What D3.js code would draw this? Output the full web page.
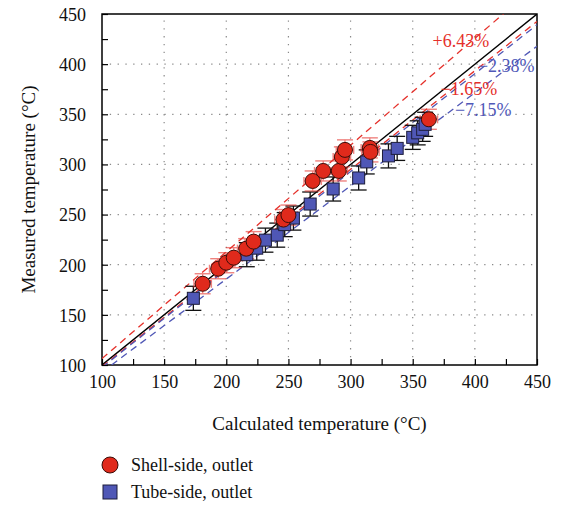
<!DOCTYPE html>
<html>
<head>
<meta charset="utf-8">
<script src="https://cdn.jsdelivr.net/npm/d3@7"></script>
<style>
  body { margin: 0; background: #fff; }
  svg text { font-family: "Liberation Serif", "Times New Roman", "DejaVu Serif", serif !important; }
</style>
</head>
<body>
<div id="viz-container"></div>
<script>
// data
let shellCalc = [181, 193.5, 200, 206, 216, 222, 246, 250, 269.5, 278, 290.5, 293, 295.5, 315.5, 316, 363];
let shellMeas = [181, 196, 202, 207, 216, 223, 245, 249.5, 283.5, 293.5, 293.5, 307.5, 314.5, 316.5, 312.5, 345];
let shellXErr = 7;
let shellYErr = 10;

let tubeCalc = [173.5, 216.5, 224.5, 231.5, 241, 247, 254, 267.5, 286, 306.5, 313, 330.5, 337.5, 350, 354, 358, 360];
let tubeMeas = [166.5, 210, 216.5, 224.5, 229.5, 240, 246.5, 260.5, 275.5, 286.5, 302.5, 308.5, 316, 327, 331.5, 335, 340];
let tubeXErr = 5;
let tubeYErr = 12;

// reference lines: percent deviation from y = x
let devNames = ["+6.43%", "\u22121.65%", "\u22122.38%", "\u22127.15%"];
let devValues = [6.43, -1.65, -2.38, -7.15];
let devSeries = ["shell", "shell", "tube", "tube"];

let xTicks = [100, 150, 200, 250, 300, 350, 400, 450];
let yTicks = [100, 150, 200, 250, 300, 350, 400, 450];

let red = "#e5302a";
let blue = "#4f57b6";
let serif = "'Liberation Serif', 'Times New Roman', 'DejaVu Serif', serif";

let margin = {left: 102, top: 14, right: 33, bottom: 142};
let W = 570, H = 507;

let viz = d3.select("#viz-container")
  .append("svg")
    .attr("width", W)
    .attr("height", H)
    .attr("font-family", serif);

let x = d3.scaleLinear().domain([100, 450]).range([margin.left, W - margin.right]);
let y = d3.scaleLinear().domain([100, 450]).range([H - margin.bottom, margin.top]);

// clip
viz.append("clipPath").attr("id", "clip")
  .append("rect")
    .attr("x", x(100)).attr("y", y(450))
    .attr("width", x(450) - x(100)).attr("height", y(100) - y(450));

// grid
let grid = viz.append("g").attr("stroke", "#8a8a8a").attr("stroke-width", 1.2).attr("stroke-dasharray", "1.3,6.5");
grid.selectAll(".gx").data(xTicks.slice(1, -1)).enter().append("line")
  .attr("x1", d => x(d)).attr("x2", d => x(d))
  .attr("y1", y(100)).attr("y2", y(450));
grid.selectAll(".gy").data(yTicks.slice(1, -1)).enter().append("line")
  .attr("y1", d => y(d)).attr("y2", d => y(d))
  .attr("x1", x(100)).attr("x2", x(450));

// axes with inner ticks
let minor = d3.range(100, 451, 25);
let xAxis = viz.append("g").attr("transform", "translate(0," + y(100) + ")")
  .call(d3.axisBottom(x).tickValues(minor).tickSize(-6).tickSizeOuter(0)
    .tickFormat(d => xTicks.includes(d) ? d : ""));
let yAxis = viz.append("g").attr("transform", "translate(" + x(100) + ",0)")
  .call(d3.axisLeft(y).tickValues(minor).tickSize(-6).tickSizeOuter(0)
    .tickFormat(d => yTicks.includes(d) ? d : ""));
[xAxis, yAxis].forEach(a => {
  a.attr("font-family", serif);
  a.select(".domain").remove();
  a.selectAll("line").attr("stroke", "#000").attr("stroke-width", 1.2);
  a.selectAll("text").attr("font-family", serif).attr("font-size", 18).attr("fill", "#111");
});
xAxis.selectAll("text").attr("dy", "1.0em").attr("y", 5);
yAxis.selectAll("text").attr("x", -16).attr("dy", "0.35em");

// frame
viz.append("rect")
  .attr("x", x(100)).attr("y", y(450))
  .attr("width", x(450) - x(100)).attr("height", y(100) - y(450))
  .attr("fill", "none").attr("stroke", "#000").attr("stroke-width", 1.5);

let plot = viz.append("g").attr("clip-path", "url(#clip)");

// reference lines
plot.append("line")
  .attr("x1", x(100)).attr("y1", y(100)).attr("x2", x(450)).attr("y2", y(450))
  .attr("stroke", "#000").attr("stroke-width", 1.4);

plot.selectAll(".dev").data(devValues).enter().append("line")
  .attr("x1", x(100)).attr("y1", d => y(100 * (1 + d / 100)))
  .attr("x2", x(450)).attr("y2", d => y(450 * (1 + d / 100)))
  .attr("stroke", (d, i) => devSeries[i] == "shell" ? red : blue)
  .attr("stroke-width", 1.3)
  .attr("stroke-dasharray", "7,5");

let tube = tubeCalc.map((c, i) => ({c: c, m: tubeMeas[i]}));
let shell = shellCalc.map((c, i) => ({c: c, m: shellMeas[i]}));

// tube-side error bars
let tb = plot.append("g");
tube.forEach(d => {
  tb.append("line").attr("x1", x(d.c - tubeXErr)).attr("x2", x(d.c + tubeXErr))
    .attr("y1", y(d.m)).attr("y2", y(d.m)).attr("stroke", "#777").attr("stroke-width", 1.3).attr("opacity", 0.7);
  tb.append("line").attr("x1", x(d.c)).attr("x2", x(d.c))
    .attr("y1", y(d.m - tubeYErr)).attr("y2", y(d.m + tubeYErr)).attr("stroke", "#111").attr("stroke-width", 1.3);
  [d.m - tubeYErr, d.m + tubeYErr].forEach(v => {
    tb.append("line").attr("x1", x(d.c) - 8).attr("x2", x(d.c) + 8)
      .attr("y1", y(v)).attr("y2", y(v)).attr("stroke", "#111").attr("stroke-width", 1.3);
  });
});

// shell-side error bars
let sb = plot.append("g").attr("stroke", red).attr("stroke-width", 1.4).attr("opacity", 0.6);
shell.forEach(d => {
  sb.append("line").attr("x1", x(d.c - shellXErr)).attr("x2", x(d.c + shellXErr))
    .attr("y1", y(d.m)).attr("y2", y(d.m));
  sb.append("line").attr("x1", x(d.c)).attr("x2", x(d.c))
    .attr("y1", y(d.m - shellYErr)).attr("y2", y(d.m + shellYErr));
  [d.m - shellYErr, d.m + shellYErr].forEach(v => {
    sb.append("line").attr("x1", x(d.c) - 8).attr("x2", x(d.c) + 8)
      .attr("y1", y(v)).attr("y2", y(v));
  });
  [d.c - shellXErr, d.c + shellXErr].forEach(v => {
    sb.append("line").attr("x1", x(v)).attr("x2", x(v))
      .attr("y1", y(d.m) - 4).attr("y2", y(d.m) + 4);
  });
});

// markers
plot.selectAll(".sq").data(tube).enter().append("rect")
  .attr("x", d => x(d.c) - 6).attr("y", d => y(d.m) - 6)
  .attr("width", 12).attr("height", 12)
  .attr("fill", blue).attr("stroke", "#1d1d3a").attr("stroke-width", 1);

plot.selectAll(".circles").data(shell).enter().append("circle")
  .attr("cx", d => x(d.c)).attr("cy", d => y(d.m)).attr("r", 7.5)
  .attr("fill", "#e02a1c").attr("stroke", "#3a0d08").attr("stroke-width", 1);

// deviation labels
let labelPos = [[366, 417], [372.5, 369], [402.5, 392], [384, 348]];
viz.selectAll(".devlab").data(devNames).enter().append("text")
  .attr("x", (d, i) => x(labelPos[i][0]))
  .attr("y", (d, i) => y(labelPos[i][1]))
  .attr("font-size", 18)
  .attr("fill", (d, i) => devSeries[i] == "shell" ? red : "#5058b8")
  .text(d => d);

// axis titles
viz.append("text")
  .attr("x", (x(100) + x(450)) / 2).attr("y", 430)
  .attr("text-anchor", "middle").attr("font-size", 19).attr("fill", "#111")
  .text("Calculated temperature (\u00b0C)");
viz.append("text")
  .attr("transform", "translate(35," + (y(275)) + ") rotate(-90)")
  .attr("text-anchor", "middle").attr("font-size", 19).attr("fill", "#111")
  .text("Measured temperature (\u00b0C)");

// legend
let lg = viz.append("g");
lg.append("circle").attr("cx", 110).attr("cy", 465).attr("r", 8)
  .attr("fill", "#e02a1c").attr("stroke", "#3a0d08");
lg.append("text").attr("x", 131).attr("y", 471).attr("font-size", 18).attr("fill", "#111")
  .text("Shell-side, outlet");
lg.append("rect").attr("x", 103).attr("y", 485).attr("width", 14).attr("height", 14)
  .attr("fill", blue).attr("stroke", "#1d1d3a");
lg.append("text").attr("x", 131).attr("y", 498).attr("font-size", 18).attr("fill", "#111")
  .text("Tube-side, outlet");
</script>
</body>
</html>
